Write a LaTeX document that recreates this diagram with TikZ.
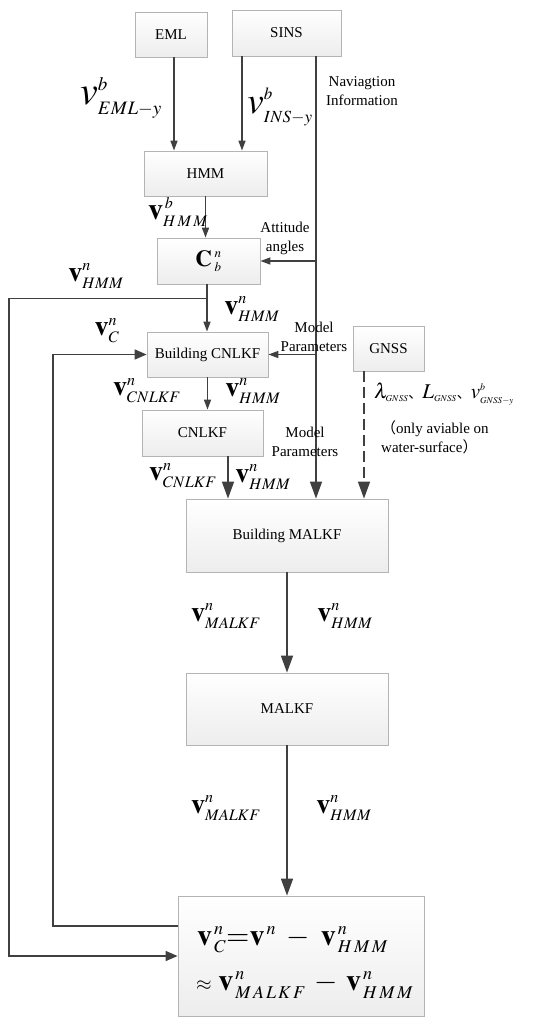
\documentclass[tikz,border=0pt]{standalone}
\usepackage{mathptmx}
\usepackage{fontspec}
\setmainfont{Liberation Serif}
\newfontfamily\cjk{Noto Sans CJK SC}
\usetikzlibrary{arrows.meta,calc}
\definecolor{linec}{HTML}{404040}
\definecolor{boxborder}{HTML}{B4B4B4}
\definecolor{boxbottom}{HTML}{EDEDED}
\newcommand{\ssz}[2]{\mbox{\fontsize{#1}{#1}\selectfont$#2$}}
\begin{document}
\begin{tikzpicture}[x=1pt,y=-1pt,
  blk/.style={draw=boxborder, line width=0.8pt, top color=white, bottom color=boxbottom,
    inner sep=0pt, font=\fontsize{15}{18}\selectfont},
  ln/.style={draw=linec, line width=1.5pt},
  arrS/.style={-{Triangle[length=10pt,width=7pt]}},
  arrM/.style={-{Triangle[length=12pt,width=10pt]}},
  arrL/.style={-{Triangle[length=17pt,width=12pt]}},
  lbl/.style={inner sep=0pt, align=center},
  txt/.style={inner sep=0pt, align=center, font=\fontsize{15}{19}\selectfont}]
\useasboundingbox (0,0) rectangle (550,1026);

% boxes
\node[blk, minimum width=72pt, minimum height=45pt] (EML) at (171,34.5) {EML};
\node[blk, minimum width=109pt, minimum height=46pt] (SINS) at (286.5,33) {SINS};
\node[blk, minimum width=123pt, minimum height=45pt] (HMM) at (205.5,173.5) {HMM};
\node[blk, minimum width=103pt, minimum height=46pt] (Cbn) at (208.5,261)
  {\fontsize{23}{23}\selectfont$\mathbf{C}^{\ssz{13}{\;n}}_{\ssz{13}{\;b}}$};
\node[blk, minimum width=121pt, minimum height=45pt] (BC) at (207.5,354.5) {Building CNLKF};
\node[blk, minimum width=71pt, minimum height=45pt] (GNSS) at (388.5,348.5) {GNSS};
\node[blk, minimum width=121pt, minimum height=46pt] (CN) at (202.5,433) {CNLKF};
\node[blk, minimum width=202pt, minimum height=73pt] (BM) at (287,535.5) {Building MALKF};
\node[blk, minimum width=202pt, minimum height=72pt] (MA) at (287,709) {MALKF};
\node[blk, minimum width=246pt, minimum height=120pt] (F) at (301,956) {};
\node[lbl, anchor=west, font=\fontsize{30}{30}\selectfont] (fl1) at (197,940)
  {$\mathbf{v}^{\ssz{18}{\,n}}_{\ssz{18}{\,C}}{=}\mathbf{v}^{\ssz{18}{\,n}}\;-\;\mathbf{v}^{\ssz{18}{\,n}}_{\ssz{18}{\,H\,M\,M}}$};
\node[lbl, anchor=west, font=\fontsize{30}{30}\selectfont] (fl2) at (196,985)
  {$\ssz{20}{\approx}\;\mathbf{v}^{\ssz{18}{\,n}}_{\ssz{18}{\,M\mkern2mu A\mkern2mu L\mkern2mu K\mkern2mu F}}\:-\:\mathbf{v}^{\ssz{18}{\,n}}_{\ssz{18}{\,H\mkern2mu M\mkern2mu M}}$};

% helper coordinates
\coordinate (e1) at ($(EML.south)+(3,0)$);
\coordinate (s1) at ($(SINS.south)+(-44.5,0)$);
\coordinate (s2) at ($(SINS.south)+(29.5,0)$);
\coordinate (b1) at ($(Cbn.south)+(-1.5,14)$);
\coordinate (f2) at ($(F.west)+(0,-30)$);
\coordinate (xl) at (9,0);
\coordinate (xl2) at (53,0);
\coordinate (c1) at ($(CN.south)+(25.5,0)$);
\coordinate (g1) at ($(GNSS.south)+(-24.5,0)$);

% connectors
\draw[ln,arrS] (e1) -- (e1 |- HMM.north);
\draw[ln,arrS] (s1) -- (s1 |- HMM.north);
\draw[ln,arrL] (s2) -- (s2 |- BM.north);
\draw[ln,arrS] (s2 |- Cbn.east) -- (Cbn.east);
\draw[ln,arrS] (s2 |- BC.east) -- (BC.east);
\draw[ln,arrS] (HMM.south) -- (HMM.south |- Cbn.north);
\draw[ln,arrS] (b1 |- Cbn.south) -- (b1 |- BC.north);
\draw[ln,arrM] (b1) -| (xl |- F.west) -- (F.west);
\draw[ln,arrM] (f2) -| (xl2 |- BC.west) -- (BC.west);
\draw[ln,arrS] (BC.south) -- (BC.south |- CN.north);
\draw[ln,arrL] (c1) -- (c1 |- BM.north);
\draw[ln,arrL,dash pattern=on 11pt off 5pt] (g1) -- (g1 |- BM.north);
\draw[ln,arrL] (BM.south) -- (MA.north);
\draw[ln,arrL] (MA.south) -- (MA.south |- F.north);

% labels
\node[lbl] (l1) at (121,98) {\fontsize{40}{40}\selectfont$v^{\ssz{19}{b}}_{\ssz{19}{EML{-}y}}$};
\node[lbl] (l2) at (280,107) {\fontsize{37}{37}\selectfont$v^{\ssz{17}{b}}_{\ssz{17}{INS{-}y}}$};
\node[txt] (l3) at (362,91) {Naviagtion\\Information};
\node[lbl] (l4) at (178,212) {\fontsize{30}{30}\selectfont$\mathbf{v}^{\ssz{16}{\,b}}_{\ssz{16}{H\,M\,M}}$};
\node[txt] (l5) at (285,238.5) {Attitude\\angles};
\node[lbl] (l6) at (96,276) {\fontsize{28}{28}\selectfont$\mathbf{v}^{\ssz{16}{n}}_{\ssz{16}{HMM}}$};
\node[lbl] (l7) at (252,309) {\fontsize{28}{28}\selectfont$\mathbf{v}^{\ssz{16}{n}}_{\ssz{16}{HMM}}$};
\node[lbl] (l8) at (107,331) {\fontsize{28}{28}\selectfont$\mathbf{v}^{\ssz{16}{n}}_{\ssz{16}{C}}$};
\node[txt] (l9) at (314,336.5) {Model\\Parameters};
\node[lbl] (l10) at (147,391) {\fontsize{28}{28}\selectfont$\mathbf{v}^{\ssz{16}{n}}_{\ssz{16}{CNLKF}}$};
\node[lbl] (l11) at (253,391) {\fontsize{28}{28}\selectfont$\mathbf{v}^{\ssz{16}{n}}_{\ssz{16}{HMM}}$};
\node[lbl] (l12) at (444,394) {\fontsize{21}{21}\selectfont$\lambda_{\ssz{9}{GNSS}}${\cjk\fontsize{14}{14}\selectfont 、}$L_{\ssz{9}{GNSS}}${\cjk\fontsize{14}{14}\selectfont 、}$v^{\ssz{10}{b}}_{\ssz{9}{GNSS{-}y}}$};
\node[txt, anchor=west, align=left] (l13) at (381,437.5) {{\cjk （}only aviable on\\water-surface{\cjk ）}};
\node[txt] (l14) at (305,442) {Model\\Parameters};
\node[lbl] (l15) at (183,476) {\fontsize{28}{28}\selectfont$\mathbf{v}^{\ssz{16}{n}}_{\ssz{16}{CNLKF}}$};
\node[lbl] (l16) at (263,477) {\fontsize{28}{28}\selectfont$\mathbf{v}^{\ssz{16}{n}}_{\ssz{16}{HMM}}$};
\node[lbl] (l17) at (226,616) {\fontsize{28}{28}\selectfont$\mathbf{v}^{\ssz{16}{n}}_{\ssz{16}{MALKF}}$};
\node[lbl] (l18) at (345,616) {\fontsize{28}{28}\selectfont$\mathbf{v}^{\ssz{16}{n}}_{\ssz{16}{HMM}}$};
\node[lbl] (l19) at (226,808) {\fontsize{28}{28}\selectfont$\mathbf{v}^{\ssz{16}{n}}_{\ssz{16}{MALKF}}$};
\node[lbl] (l20) at (344,808) {\fontsize{28}{28}\selectfont$\mathbf{v}^{\ssz{16}{n}}_{\ssz{16}{HMM}}$};
\end{tikzpicture}
\end{document}
